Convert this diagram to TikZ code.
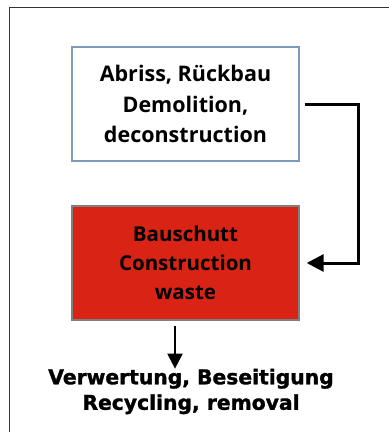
\documentclass[tikz,border=0pt]{standalone}
\usepackage{fontspec}
\setmainfont{Open Sans}
\newfontfamily\heavyfont[BoldFeatures={FakeBold=1.5}]{DejaVu Sans}
\usetikzlibrary{arrows.meta}
\definecolor{boxblue}{HTML}{7E9BBB}
\definecolor{wastered}{HTML}{D92314}
\definecolor{framegray}{HTML}{333333}
\tikzset{
  stagebox/.style={draw, line width=1.4pt, minimum width=227pt, minimum height=114pt, inner sep=0pt, align=center},
  conn/.style={line width=3pt, -{Triangle[length=17pt,width=17pt]}},
  downarr/.style={line width=2pt, -{Triangle[length=15pt,width=15pt]}}
}
\begin{document}
\begin{tikzpicture}[x=1pt,y=-1pt]
\useasboundingbox (0,0) rectangle (389,432);
\begin{scope}
\clip (0,0) rectangle (389,432);
\draw[framegray, line width=1.8pt] (9.5,445) -- (9.5,7.5) -- (400,7.5);
\end{scope}
\node[stagebox, draw=boxblue, fill=white, font=\fontsize{21.5}{30.5}\selectfont\bfseries] (b1) at (185.5,104) {Abriss, Rückbau\\Demolition,\\deconstruction};
\node[stagebox, draw=black!50, fill=wastered, font=\fontsize{20.5}{29}\selectfont\bfseries] (b2) at (185.5,263) {Bauschutt\\Construction\\waste};
\node[inner sep=0pt, align=center, font=\heavyfont\fontsize{20.3}{25.5}\selectfont\bfseries] (out) at (191,391.5) {Verwertung, Beseitigung\\Recycling, removal};
\draw[conn] ([xshift=5pt]b1.east) -- ++(54,0) |- ([xshift=7pt]b2.east);
\coordinate (d1) at (175,326);
\draw[downarr] (d1) -- (d1 |- out.north);
\end{tikzpicture}
\end{document}
